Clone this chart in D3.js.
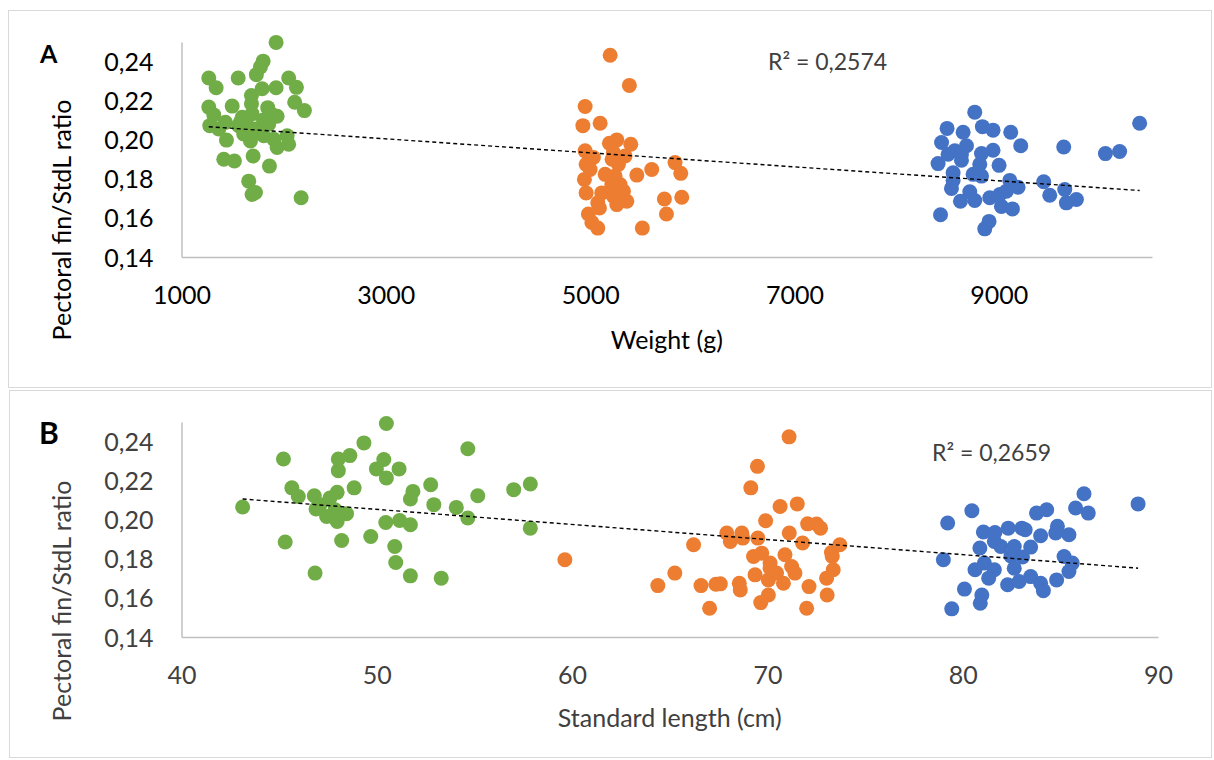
<!DOCTYPE html>
<html>
<head>
<meta charset="utf-8">
<script src="https://cdn.jsdelivr.net/npm/d3@7"></script>
<style>
  html, body { margin: 0; padding: 0; background: #fff; }
  svg { display: block; font-family: Lato, "Open Sans", sans-serif; }
</style>
</head>
<body>
<svg id="chart" width="1214" height="760"></svg>
<script>
// ---- Panel A: pectoral fin / standard length ratio against body weight (g) ----
const weightGreen = [
  [1926,0.2498],[1799,0.2402],[1773,0.2373],[1733,0.2333],[1267,0.2316],[1555,0.2316],
  [2049,0.2316],[1339,0.2266],[2125,0.2268],[1789,0.2261],[1926,0.2266],[1685,0.2226],
  [2108,0.2192],[2203,0.2149],[1267,0.2167],[1496,0.2172],[1685,0.2184],[1844,0.2164],
  [1316,0.2127],[1691,0.2132],[1936,0.2120],[1877,0.2132],[1594,0.2115],[1430,0.2089],
  [1277,0.2072],[1365,0.2055],[1560,0.2072],[1643,0.2072],[1724,0.2055],[1854,0.2080],
  [1609,0.2029],[1675,0.1994],[1805,0.2020],[1903,0.2003],[2034,0.2020],[2049,0.1977],
  [1936,0.1960],[1440,0.1998],[1414,0.1900],[1518,0.1891],[1701,0.1917],[1861,0.1865],
  [1658,0.1788],[1691,0.1720],[2171,0.1703],[1724,0.1730],[1577,0.2091],[1802,0.2101],
  [1753,0.2039]
];
const weightOrange = [
  [5196,0.2432],[5384,0.2278],[4951,0.2170],[4929,0.2072],[5098,0.2084],[5189,0.1982],
  [5261,0.1999],[5398,0.1977],[4951,0.1943],[5032,0.1909],[5228,0.1935],[5342,0.1917],
  [4961,0.1874],[5277,0.1874],[5831,0.1883],[5887,0.1828],[5457,0.1819],[5603,0.1848],
  [5244,0.1814],[4944,0.1797],[5212,0.1771],[4961,0.1728],[5114,0.1728],[5326,0.1737],
  [5359,0.1685],[5261,0.1668],[5075,0.1677],[5091,0.1651],[5727,0.1697],[5897,0.1706],
  [5747,0.1620],[4983,0.1620],[5017,0.1577],[5075,0.1548],[5511,0.1548],[5228,0.1711],
  [5147,0.1823],[5293,0.1771],[5000,0.1848],[5215,0.1900]
];
const weightBlue = [
  [8765,0.2141],[8494,0.2058],[8651,0.2038],[8840,0.2067],[8944,0.2049],[9117,0.2038],
  [8440,0.1986],[8684,0.1969],[8570,0.1943],[8504,0.1926],[8635,0.1926],[8831,0.1929],
  [8944,0.1946],[9215,0.1969],[9636,0.1963],[10044,0.1929],[10183,0.1940],[10379,0.2084],
  [8406,0.1878],[8635,0.1895],[8814,0.1874],[9003,0.1869],[8553,0.1831],[8749,0.1823],
  [8831,0.1814],[8537,0.1751],[8716,0.1734],[8625,0.1685],[8765,0.1689],[8912,0.1703],
  [9026,0.1659],[9134,0.1646],[9075,0.1737],[9108,0.1792],[9189,0.1757],[9440,0.1785],
  [9499,0.1716],[9646,0.1745],[9662,0.1677],[9760,0.1694],[8430,0.1616],[8905,0.1582],
  [8863,0.1544],[8553,0.1792],[9010,0.1720]
];
const weightTicks = [1000, 3000, 5000, 7000, 9000];
const weightTrend = [0.2112, -3.582e-6];   // intercept, slope
const weightR2 = "R² = 0,2574";

// ---- Panel B: same ratio against standard length (cm) ----
const lengthGreen = [
  [43.13,0.2065],[45.22,0.2311],[45.65,0.2163],[45.98,0.2119],[46.80,0.2123],[46.89,0.2055],
  [45.31,0.1886],[46.84,0.1727],[48.03,0.2311],[48.62,0.2328],[48.03,0.2251],[49.34,0.2393],
  [50.49,0.2492],[49.98,0.2260],[50.36,0.2308],[50.49,0.2214],[48.84,0.2163],[47.60,0.2111],
  [47.97,0.2140],[47.43,0.2017],[47.97,0.1991],[48.45,0.2031],[47.86,0.2051],[48.20,0.1894],
  [49.69,0.1914],[50.46,0.1986],[51.14,0.2260],[54.66,0.2363],[52.76,0.2179],[51.85,0.2145],
  [51.72,0.2106],[52.92,0.2077],[54.07,0.2063],[55.17,0.2123],[57.01,0.2154],[57.86,0.2183],
  [51.17,0.1996],[51.72,0.1974],[54.66,0.2009],[57.86,0.1957],[50.92,0.1863],[50.97,0.1781],
  [51.72,0.1713],[53.30,0.1701],[47.09,0.2077]
];
const lengthOrange = [
  [59.63,0.1795],[66.22,0.1872],[65.26,0.1727],[64.39,0.1663],[66.60,0.1663],[67.36,0.1670],
  [67.04,0.1547],[71.11,0.2424],[69.49,0.2273],[69.15,0.2163],[70.65,0.2068],[71.53,0.2081],
  [69.91,0.1995],[72.06,0.1979],[72.52,0.1978],[72.72,0.1957],[71.12,0.1932],[67.92,0.1932],
  [68.10,0.1889],[68.69,0.1932],[68.74,0.1906],[69.51,0.1906],[71.80,0.1881],[73.71,0.1872],
  [73.28,0.1832],[73.32,0.1812],[69.29,0.1812],[69.71,0.1829],[70.90,0.1821],[70.14,0.1778],
  [71.24,0.1761],[71.41,0.1727],[73.37,0.1744],[73.03,0.1701],[69.37,0.1718],[70.05,0.1692],
  [70.47,0.1727],[70.82,0.1675],[67.59,0.1672],[68.56,0.1675],[68.61,0.1641],[72.13,0.1658],
  [70.05,0.1615],[69.66,0.1576],[73.06,0.1615],[72.01,0.1547],[70.14,0.1752]
];
const lengthBlue = [
  [86.21,0.2133],[88.98,0.2081],[80.47,0.2046],[79.23,0.1983],[83.78,0.2034],[84.30,0.2051],
  [85.78,0.2060],[86.43,0.2034],[81.06,0.1937],[81.65,0.1935],[82.33,0.1957],[83.03,0.1957],
  [83.20,0.1949],[84.85,0.1966],[84.76,0.1932],[85.44,0.1923],[83.99,0.1918],[81.62,0.1889],
  [81.95,0.1863],[82.64,0.1863],[83.48,0.1860],[80.88,0.1855],[79.01,0.1795],[82.47,0.1815],
  [83.06,0.1809],[85.19,0.1812],[85.61,0.1778],[85.44,0.1735],[81.11,0.1778],[81.62,0.1744],
  [80.63,0.1744],[81.33,0.1701],[82.64,0.1752],[83.48,0.1709],[84.81,0.1692],[83.99,0.1675],
  [84.13,0.1637],[82.30,0.1667],[82.89,0.1684],[80.09,0.1645],[80.98,0.1615],[80.90,0.1573],
  [79.44,0.1544]
];
const lengthTicks = [40, 50, 60, 70, 80, 90];
const lengthTrend = [0.2439, -7.72e-4];
const lengthR2 = "R² = 0,2659";

const ratioTicks = [0.14, 0.16, 0.18, 0.20, 0.22, 0.24];
const groupColors = ["#70AD47", "#ED7D31", "#4472C4"];

// Comma as decimal separator on the ratio axis
const commaLocale = d3.formatLocale({ decimal: ",", thousands: ".", grouping: [3], currency: ["", ""] });
const fmtRatio = commaLocale.format(".2f");

const svg = d3.select("#chart");

const panels = [
  {
    letter: "A", letterX: 40, letterY: 63, letterSize: 25,
    box: { x: 8.5, y: 10.5, w: 1203, h: 377 },
    plot: { left: 181.5, right: 1152, top: 42, bottom: 257 },
    xDomain: [1000, 10500], xTicks: weightTicks, xFmt: d3.format("d"),
    groups: [weightGreen, weightOrange, weightBlue],
    trend: weightTrend, r2: weightR2, r2X: 768, r2Y: 70,
    xTitle: "Weight (g)", xTitleY: 349, yTitleY: 220,
    tickColor: "#000000"
  },
  {
    letter: "B", letterX: 39, letterY: 444, letterSize: 30,
    box: { x: 9.5, y: 390.5, w: 1202, h: 367 },
    plot: { left: 181.5, right: 1158, top: 422, bottom: 637 },
    xDomain: [40, 90], xTicks: lengthTicks, xFmt: d3.format("d"),
    groups: [lengthGreen, lengthOrange, lengthBlue],
    trend: lengthTrend, r2: lengthR2, r2X: 932, r2Y: 461,
    xTitle: "Standard length (cm)", xTitleY: 727, yTitleY: 601,
    tickColor: "#404040"
  }
];

panels.forEach(p => {
  const g = svg.append("g");

  // panel frame
  g.append("rect")
    .attr("x", p.box.x).attr("y", p.box.y)
    .attr("width", p.box.w).attr("height", p.box.h)
    .attr("fill", "#fff").attr("stroke", "#D9D9D9").attr("stroke-width", 1);

  const x = d3.scaleLinear().domain(p.xDomain).range([p.plot.left, p.plot.right]);
  const y = d3.scaleLinear().domain([0.14, 0.25]).range([p.plot.bottom, p.plot.top]);

  // axes
  const xAxis = g.append("g")
    .attr("transform", `translate(0,${p.plot.bottom})`)
    .call(d3.axisBottom(x).tickValues(p.xTicks).tickFormat(p.xFmt).tickSize(0).tickPadding(30));
  const yAxis = g.append("g")
    .attr("transform", `translate(${p.plot.left},0)`)
    .call(d3.axisLeft(y).tickValues(ratioTicks).tickFormat(fmtRatio).tickSize(0).tickPadding(28));

  [xAxis, yAxis].forEach(ax => {
    ax.select(".domain").attr("stroke", "#BFBFBF").attr("stroke-width", 1.5);
    ax.selectAll("text")
      .attr("fill", p.tickColor)
      .style("font-family", "Lato, 'Open Sans', sans-serif")
      .style("font-size", "25px");
  });
  xAxis.selectAll("text").attr("dy", "0.68em");
  yAxis.selectAll("text").attr("dy", "0.36em");

  // points
  p.groups.forEach((pts, i) => {
    g.append("g").selectAll("circle")
      .data(pts)
      .join("circle")
      .attr("cx", d => x(d[0]))
      .attr("cy", d => y(d[1]))
      .attr("r", 7.5)
      .attr("fill", groupColors[i]);
  });

  // linear trend line across the data range
  const all = p.groups.flat();
  const xr = d3.extent(all, d => d[0]);
  const [b0, b1] = p.trend;
  g.append("line")
    .attr("x1", x(xr[0])).attr("y1", y(b0 + b1 * xr[0]))
    .attr("x2", x(xr[1])).attr("y2", y(b0 + b1 * xr[1]))
    .attr("stroke", "#000").attr("stroke-width", 1.4)
    .attr("stroke-dasharray", "4,3");

  // R² annotation
  g.append("text")
    .attr("x", p.r2X).attr("y", p.r2Y)
    .attr("fill", "#404040")
    .style("font-size", "23px")
    .text(p.r2);

  // panel letter
  g.append("text")
    .attr("x", p.letterX).attr("y", p.letterY)
    .attr("fill", "#000")
    .style("font-weight", "bold")
    .style("font-size", p.letterSize + "px")
    .text(p.letter);

  // axis titles
  g.append("text")
    .attr("x", (p.plot.left + p.plot.right) / 2).attr("y", p.xTitleY)
    .attr("text-anchor", "middle")
    .attr("fill", p.tickColor)
    .style("font-size", "25px")
    .text(p.xTitle);

  g.append("text")
    .attr("transform", `translate(71,${p.yTitleY}) rotate(-90)`)
    .attr("text-anchor", "middle")
    .attr("fill", p.tickColor)
    .style("font-size", "25px")
    .text("Pectoral fin/StdL ratio");
});
</script>
</body>
</html>
